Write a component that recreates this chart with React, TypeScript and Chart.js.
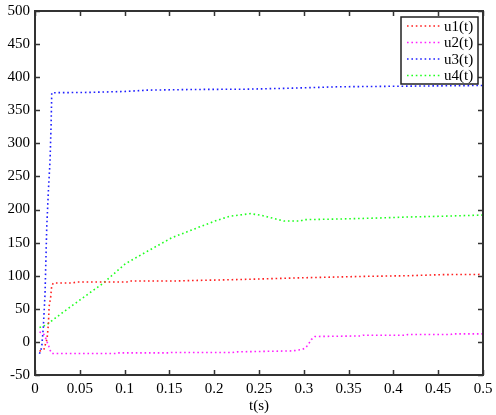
import React, { useEffect, useRef } from "react";
import { Chart, registerables } from "chart.js";

Chart.register(...registerables);

// ---- data ----
const seriesLabels = ["u1(t)", "u2(t)", "u3(t)", "u4(t)"];
const seriesColors = ["#ff2020", "#ff20ff", "#2020ff", "#20ff20"];

const u1T = [0.005, 0.01, 0.0135, 0.015, 0.0157, 0.0175, 0.0187, 0.0205, 0.041, 0.0466, 0.1025, 0.105, 0.153, 0.185, 0.22, 0.248, 0.289, 0.324, 0.366, 0.416, 0.456, 0.5];
const u1V = [-14, -11, 5, 28, 53, 68, 85, 89, 89, 90.5, 90.5, 92, 92, 93, 94, 95, 96.6, 97.7, 99, 100, 101.7, 102];

const u2T = [0.005, 0.009, 0.011, 0.013, 0.015, 0.0168, 0.0187, 0.09, 0.092, 0.15, 0.152, 0.22, 0.226, 0.287, 0.298, 0.302, 0.3057, 0.3083, 0.3124, 0.3635, 0.366, 0.414, 0.416, 0.464, 0.466, 0.5];
const u2V = [15, 13, 9, 1.5, -5, -12.5, -17.5, -17.5, -16.6, -16.6, -16, -16, -15, -13.6, -11.5, -9, -2.4, 3.6, 8.2, 9, 10, 10, 11.2, 11.2, 12.1, 12.1];

const u3T = [0.005, 0.0075, 0.0093, 0.0112, 0.0131, 0.015, 0.0168, 0.018, 0.0187, 0.06, 0.1, 0.125, 0.175, 0.237, 0.287, 0.338, 0.42, 0.5];
const u3V = [-18, -8, 22, 73, 173, 230, 274, 330, 376.5, 377, 378.4, 380.4, 381.4, 381.9, 383.4, 385.5, 386.5, 387.5];

const u4T = [0.005, 0.0093, 0.015, 0.0205, 0.0355, 0.0559, 0.0764, 0.1007, 0.1268, 0.153, 0.188, 0.203, 0.218, 0.2405, 0.2535, 0.268, 0.2777, 0.296, 0.3, 0.339, 0.378, 0.416, 0.457, 0.5];
const u4V = [21.7, 23.7, 27.7, 33.8, 49, 69, 89, 118, 138, 157.6, 176, 183.7, 190, 193.8, 191, 186, 182.6, 182.6, 184.7, 185.7, 187, 188.7, 190, 191.7];

const seriesT = [u1T, u2T, u3T, u4T];
const seriesV = [u1V, u2V, u3V, u4V];

const xMin = 0;
const xMax = 0.5;
const xStep = 0.05;
const yMin = -50;
const yMax = 500;
const yStep = 50;
const xTitle = "t(s)";

const FONT = "'Liberation Serif', 'Times New Roman', serif";

const frameAndLegend = {
  id: "frameAndLegend",
  afterDatasetsDraw(chart: any) {
    const { ctx, chartArea } = chart;
    const { left, right, top, bottom } = chartArea;
    const xs = chart.scales.x;
    const ys = chart.scales.y;
    ctx.save();
    // frame
    ctx.strokeStyle = "#333333";
    ctx.lineWidth = 2;
    ctx.setLineDash([]);
    ctx.strokeRect(left, top, right - left, bottom - top);
    // inward ticks
    const tl = 5;
    ctx.lineWidth = 1.5;
    ctx.beginPath();
    xs.ticks.forEach((t: any) => {
      const px = Math.round(xs.getPixelForValue(t.value)) + 0.5;
      ctx.moveTo(px, bottom);
      ctx.lineTo(px, bottom - tl);
      ctx.moveTo(px, top);
      ctx.lineTo(px, top + tl);
    });
    ys.ticks.forEach((t: any) => {
      const py = Math.round(ys.getPixelForValue(t.value)) + 0.5;
      ctx.moveTo(left, py);
      ctx.lineTo(left + tl, py);
      ctx.moveTo(right, py);
      ctx.lineTo(right - tl, py);
    });
    ctx.stroke();

    // legend
    const boxW = 77;
    const boxH = 67;
    const bx = right - 5 - boxW;
    const by = top + 6;
    ctx.fillStyle = "#ffffff";
    ctx.fillRect(bx, by, boxW, boxH);
    ctx.strokeStyle = "#222";
    ctx.lineWidth = 1.5;
    ctx.strokeRect(bx, by, boxW, boxH);
    ctx.font = `15px ${FONT}`;
    ctx.textBaseline = "middle";
    ctx.textAlign = "left";
    chart.data.datasets.forEach((ds: any, i: number) => {
      const cy = by + 9 + i * 16.5;
      ctx.strokeStyle = ds.borderColor;
      ctx.lineWidth = ds.borderWidth;
      ctx.setLineDash(ds.borderDash);
      ctx.beginPath();
      ctx.moveTo(bx + 6, cy);
      ctx.lineTo(bx + 40, cy);
      ctx.stroke();
      ctx.setLineDash([]);
      ctx.fillStyle = "#000";
      ctx.fillText(ds.label, bx + 43, cy + 1);
    });
    ctx.restore();
  },
};

export default function App() {
  const ref = useRef<HTMLCanvasElement>(null);
  useEffect(() => {
    document.body.style.margin = "0";
    const canvas = ref.current!;
    const chart = new Chart(canvas, {
      type: "line",
      data: {
        datasets: seriesLabels.map((label, i) => ({
          label,
          data: seriesT[i].map((t, j) => ({ x: t, y: seriesV[i][j] })),
          borderColor: seriesColors[i],
          backgroundColor: seriesColors[i],
          borderWidth: 1.6,
          borderDash: [1.6, 2.8],
          pointRadius: 0,
          tension: 0,
          fill: false,
        })),
      },
      options: {
        responsive: false,
        animation: false,
        devicePixelRatio: 1,
        layout: { padding: { top: 11, right: 13, left: 0, bottom: 0 } },
        plugins: {
          legend: { display: false },
          tooltip: { enabled: false },
        },
        scales: {
          x: {
            type: "linear",
            min: xMin,
            max: xMax,
            grid: { display: false, drawTicks: false },
            border: { display: false },
            ticks: {
              stepSize: xStep,
              color: "#000",
              font: { family: FONT, size: 15 },
              padding: 5,
              maxRotation: 0,
              autoSkip: false,
              callback: (v: any) => String(Number(Number(v).toFixed(2))),
            },
            title: {
              display: true,
              text: xTitle,
              color: "#000",
              font: { family: FONT, size: 15 },
              padding: { top: 2, bottom: 0 },
            },
            afterFit: (s: any) => {
              s.height = 40;
              s.paddingLeft = 0;
              s.paddingRight = 0;
            },
          },
          y: {
            type: "linear",
            min: yMin,
            max: yMax,
            grid: { display: false, drawTicks: false },
            border: { display: false },
            ticks: {
              stepSize: yStep,
              color: "#000",
              font: { family: FONT, size: 15 },
              padding: 5,
              autoSkip: false,
            },
            afterFit: (s: any) => {
              s.width = 35;
              s.paddingTop = 0;
              s.paddingBottom = 0;
            },
          },
        },
      },
      plugins: [frameAndLegend],
    });
    return () => chart.destroy();
  }, []);
  return (
    <div style={{ position: "absolute", left: 0, top: 0, background: "#fff" }}>
      <canvas ref={ref} width={496} height={415} style={{ display: "block", width: 496, height: 415 }} />
    </div>
  );
}
